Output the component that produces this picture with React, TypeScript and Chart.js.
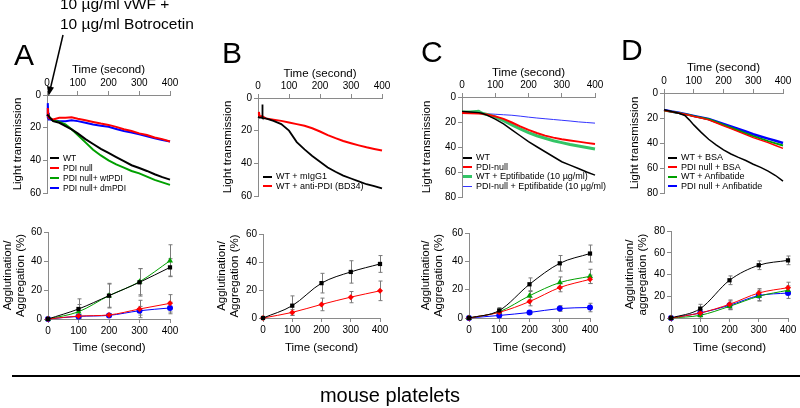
import React, { useEffect, useRef } from 'react';
import { Chart, registerables } from 'chart.js';
Chart.register(...registerables);

const FONT = "'Liberation Sans', Arial, Helvetica, sans-serif";
const AXIS = '#8a8a8a';
const GREEN = '#00a000';

// ---------- Top row: light transmission traces ----------
const tA = [0, 2, 3, 4, 6, 10, 20, 40, 60, 80, 100, 125, 150, 175, 200, 225, 250, 275, 300, 325, 350, 375, 400];
const aWT = [12, 12, 12, 12.5, 13, 14, 16, 17, 19, 21, 23.5, 27, 30, 33, 35.5, 38, 40.5, 43, 44.7, 46.5, 48.5, 50.3, 51.8];
const aNull = [13, 11, 8, 12, 14, 14.5, 15, 14, 14, 13.6, 14.5, 15.5, 16.5, 17.5, 18.3, 19.5, 21, 22, 23.5, 24.5, 26, 27, 28.5];
const aWtPDI = [12, 12, 12, 12.5, 13, 14, 15.5, 16.5, 18, 21, 24.5, 29, 33.5, 37, 40, 42.5, 44.5, 46.5, 48, 50, 52, 53.5, 55];
const aDmPDI = [14, 9, 5, 11, 15, 15, 15.5, 16, 16, 15.5, 16, 17, 18, 18.8, 19.5, 20.8, 22, 23, 24, 25.2, 26.5, 27.5, 28.5];

const tB = [0, 3, 5, 13, 14, 15, 25, 50, 75, 100, 125, 150, 175, 200, 225, 250, 275, 300, 325, 350, 375, 400];
const bIgG = [11.5, 11.8, 12, 12, 4, 12.3, 12.5, 14, 16, 20, 27, 31.5, 35.5, 39, 42.5, 45.2, 47.5, 49.3, 51, 52.8, 54, 55.4];
const bAnti = [10.5, 8.5, 11, 11.2, 11.2, 11.3, 12.5, 13.3, 14, 15, 16, 17, 18.5, 20.5, 22.7, 24.6, 26.3, 27.7, 29, 30.2, 31.2, 32.2];

const tC = [0, 25, 50, 60, 75, 100, 125, 150, 175, 200, 225, 250, 275, 300, 325, 350, 375, 400];
const cWT = [11.5, 12, 12.5, 13, 14.5, 17.7, 21.5, 26.3, 31, 35.7, 39.8, 43.8, 47.8, 51.8, 54.5, 57.2, 60, 62.5];
const cNull = [12.8, 13, 13.2, 13.5, 14, 15.5, 17.5, 20.4, 23.5, 26.3, 28.8, 30.9, 32.5, 33.8, 34.8, 35.7, 36.7, 37.6];
const cWtE = [12, 12, 11.5, 13, 14, 16, 19, 22.3, 25.5, 28.5, 31, 33, 35, 36.5, 38, 39.2, 40.4, 41.6];
const cNullE = [12.5, 12.8, 13, 13.2, 13.4, 13.8, 14.2, 14.6, 15.3, 16.1, 16.8, 17.4, 18, 18.6, 19.2, 19.9, 20.4, 20.9];

const tD = [0, 25, 50, 70, 85, 100, 125, 150, 175, 200, 225, 250, 275, 300, 325, 350, 375, 400];
const dWTB = [13.4, 14.8, 16.2, 18, 21.5, 25.5, 31.5, 37, 41.5, 45.5, 48.8, 51.5, 54, 57, 59.5, 62.5, 66, 70.5];
const dNullB = [14, 15, 16, 17, 17.8, 18.8, 20, 21.5, 23.8, 26.3, 28.5, 30.9, 33.3, 35.7, 37.7, 39.7, 42, 44.3];
const dWTA = [14, 15, 16, 17, 17.6, 18.5, 19.8, 21, 23.2, 25.5, 27.8, 30, 32.3, 34.5, 36.5, 38.5, 40.3, 42];
const dNullA = [13.5, 14.8, 15.8, 16.8, 17.5, 18.3, 19.5, 20.8, 22.8, 24.8, 26.8, 28.8, 30.8, 33, 34.8, 36.5, 38.2, 40];

// ---------- Bottom row: agglutination / aggregation ----------
const tBot = [0, 100, 200, 300, 400];
const aggA_WT = [0, 6.9, 16.1, 25.3, 35.6];
const aggA_Null = [0, 2, 2.8, 6.9, 10.8];
const aggA_Wt = [0, 5, 16.1, 25.7, 40.2];
const aggA_Dm = [0, 1.8, 2.5, 5.7, 7.6];
const errA_WT = [0, 7, 8.5, 9.5, 6];
const errA_Null = [0, 1, 1, 6, 6];
const errA_Wt = [0, 5, 8, 9, 11];
const errA_Dm = [0, 1, 1, 3, 4];

const aggB_IgG = [0, 8.8, 24.9, 32.9, 38.6];
const aggB_Anti = [0, 4, 9.7, 14.9, 19.4];
const errB_IgG = [0, 7, 7, 8, 6];
const errB_Anti = [0, 2, 4.5, 4, 7];

const aggC_WT = [0, 5.3, 23.8, 38.6, 45.5];
const aggC_Null = [0, 4, 11.6, 21.5, 27.3];
const aggC_WtE = [0, 4.4, 15.7, 25, 29.4];
const aggC_NullE = [0, 1.8, 3.9, 6.7, 7.4];
const errC_WT = [0, 2, 4.5, 5.5, 6];
const errC_Null = [0, 2, 3, 3, 3];
const errC_WtE = [0, 2, 3, 4, 5];
const errC_NullE = [0, 1, 1, 2, 3];

const aggD_WTB = [0, 8.6, 34.7, 48.5, 53];
const aggD_NullB = [0, 4.6, 12.6, 23, 27.9];
const aggD_WTA = [0, 2.5, 10.7, 20, 25.5];
const aggD_NullA = [0, 4.6, 11.7, 20.6, 23];
const errD_WTB = [0, 4, 4, 4, 4];
const errD_NullB = [0, 3, 4, 4, 5];
const errD_WTA = [0, 3, 3, 4, 4];
const errD_NullA = [0, 3, 4, 5, 5];

const timeTicks = [0, 100, 200, 300, 400];

type Series = { label: string; v: number[]; color: string; w: number; marker?: string; r?: number; err?: number[] };

const tickFont = { family: FONT, size: 10 };
const titleFont = { family: FONT, size: 11.5, lineHeight: 1.15 };

function axisCommon() {
  return {
    border: { display: true, color: AXIS, width: 1 },
    grid: { display: true, drawOnChartArea: false, drawTicks: true, tickLength: 4, color: AXIS },
  };
}

function topConfig(t: number[], series: Series[], yMax: number, yW: number, xH: number) {
  return {
    type: 'line',
    data: {
      datasets: series.map((s) => ({
        label: s.label,
        data: t.map((x, i) => ({ x, y: s.v[i] })),
        borderColor: s.color,
        backgroundColor: s.color,
        borderWidth: s.w,
        pointRadius: 0,
        tension: 0,
        fill: false,
        clip: false,
      })),
    },
    options: {
      animation: false,
      responsive: false,
      events: [],
      layout: { padding: { left: 0, top: 0, right: 12, bottom: 8 } },
      plugins: { legend: { display: false }, tooltip: { enabled: false } },
      scales: {
        x: {
          type: 'linear',
          position: 'top',
          min: 0,
          max: 400,
          ...axisCommon(),
          afterBuildTicks: (s: any) => { s.ticks = timeTicks.map((v) => ({ value: v })); },
          ticks: { font: tickFont, color: '#000', padding: 2, maxRotation: 0 },
          title: { display: true, text: 'Time (second)', font: titleFont, color: '#000', padding: 0 },
          afterFit: (s: any) => { s.height = xH; },
        },
        y: {
          type: 'linear',
          reverse: true,
          min: 0,
          max: yMax,
          ...axisCommon(),
          ticks: { stepSize: 20, font: tickFont, color: '#000', padding: 2 },
          title: { display: true, text: 'Light transmission', font: titleFont, color: '#000', padding: 0 },
          afterFit: (s: any) => { s.width = yW; },
        },
      },
    },
  };
}

function makeErrPlugin(errs: (number[] | undefined)[]) {
  return {
    id: 'errbars',
    beforeDatasetsDraw(chart: any) {
      const { ctx } = chart;
      const xs = chart.scales.x;
      const ys = chart.scales.y;
      ctx.save();
      ctx.strokeStyle = '#7a7a7a';
      ctx.lineWidth = 1;
      chart.data.datasets.forEach((ds: any, di: number) => {
        const e = errs[di];
        if (!e) return;
        ds.data.forEach((pt: any, i: number) => {
          if (!e[i]) return;
          const x = Math.round(xs.getPixelForValue(pt.x)) + 0.5;
          const y1 = ys.getPixelForValue(pt.y + e[i]);
          const y2 = ys.getPixelForValue(Math.max(0, pt.y - e[i]));
          ctx.beginPath();
          ctx.moveTo(x, y1);
          ctx.lineTo(x, y2);
          ctx.moveTo(x - 2, y1);
          ctx.lineTo(x + 2, y1);
          ctx.moveTo(x - 2, y2);
          ctx.lineTo(x + 2, y2);
          ctx.stroke();
        });
      });
      ctx.restore();
    },
  };
}

function bottomConfig(series: Series[], yMax: number, yW: number, xH: number, yTitle: string[]) {
  return {
    type: 'line',
    data: {
      datasets: series.map((s) => ({
        label: s.label,
        data: tBot.map((x, i) => ({ x, y: s.v[i] })),
        borderColor: s.color,
        backgroundColor: s.color,
        borderWidth: s.w,
        pointStyle: s.marker,
        pointRadius: s.r ?? 3,
        pointBorderWidth: 0,
        pointBackgroundColor: s.color,
        cubicInterpolationMode: 'monotone',
        fill: false,
        clip: false,
      })),
    },
    plugins: [makeErrPlugin(series.map((s) => s.err))],
    options: {
      animation: false,
      responsive: false,
      events: [],
      layout: { padding: { left: 0, top: 8, right: 12, bottom: 0 } },
      plugins: { legend: { display: false }, tooltip: { enabled: false } },
      scales: {
        x: {
          type: 'linear',
          position: 'bottom',
          min: 0,
          max: 400,
          ...axisCommon(),
          afterBuildTicks: (s: any) => { s.ticks = timeTicks.map((v) => ({ value: v })); },
          ticks: { font: tickFont, color: '#000', padding: 2, maxRotation: 0 },
          title: { display: true, text: 'Time (second)', font: titleFont, color: '#000', padding: 0 },
          afterFit: (s: any) => { s.height = xH; },
        },
        y: {
          type: 'linear',
          min: 0,
          max: yMax,
          ...axisCommon(),
          ticks: { stepSize: 20, font: tickFont, color: '#000', padding: 2 },
          title: { display: true, text: yTitle, font: titleFont, color: '#000', padding: 0 },
          afterFit: (s: any) => { s.width = yW; },
        },
      },
    },
  };
}

function ChartBox({ left, top, width, height, config }: { left: number; top: number; width: number; height: number; config: any }) {
  const ref = useRef<HTMLCanvasElement | null>(null);
  useEffect(() => {
    if (!ref.current) return;
    const ch = new Chart(ref.current, config);
    return () => ch.destroy();
  }, []);
  return (
    <div style={{ position: 'absolute', left, top, width, height }}>
      <canvas ref={ref} width={width} height={height} style={{ width, height, display: 'block' }} />
    </div>
  );
}

function Legend({ left, top, items, size = 9, gap = 9.5 }: { left: number; top: number; items: { label: string; color: string; w: number }[]; size?: number; gap?: number }) {
  return (
    <div style={{ position: 'absolute', left, top, fontFamily: FONT, fontSize: size, color: '#000', whiteSpace: 'nowrap' }}>
      {items.map((it) => (
        <div key={it.label} style={{ height: gap, lineHeight: gap + 'px', display: 'flex', alignItems: 'center' }}>
          <span style={{ display: 'inline-block', width: 9, height: 0, borderTop: `${it.w}px solid ${it.color}`, marginRight: 4 }} />
          <span>{it.label}</span>
        </div>
      ))}
    </div>
  );
}

const Letter = ({ x, y, ch }: { x: number; y: number; ch: string }) => (
  <div style={{ position: 'absolute', left: x, top: y, fontFamily: FONT, fontSize: 30, lineHeight: '30px', color: '#000' }}>{ch}</div>
);

export default function App() {
  const cfgA = topConfig(tA, [
    { label: 'WT', v: aWT, color: '#000', w: 2 },
    { label: 'PDI null', v: aNull, color: '#ff0000', w: 2 },
    { label: 'PDI null+ wtPDI', v: aWtPDI, color: GREEN, w: 2 },
    { label: 'PDI null+ dmPDI', v: aDmPDI, color: '#0000ff', w: 2 },
  ], 60, 36, 32);
  const cfgB = topConfig(tB, [
    { label: 'WT + mIgG1', v: bIgG, color: '#000', w: 1.8 },
    { label: 'WT + anti-PDI (BD34)', v: bAnti, color: '#ff0000', w: 2 },
  ], 60, 37, 31);
  const cfgC = topConfig(tC, [
    { label: 'WT', v: cWT, color: '#000', w: 1.5 },
    { label: 'PDI-null', v: cNull, color: '#ff0000', w: 2 },
    { label: 'WT + Eptifibatide (10 µg/ml)', v: cWtE, color: '#33c466', w: 3 },
    { label: 'PDI-null + Eptifibatide (10 µg/ml)', v: cNullE, color: '#3333ff', w: 1 },
  ], 80, 42, 31);
  const cfgD = topConfig(tD, [
    { label: 'WT + BSA', v: dWTB, color: '#000', w: 1.5 },
    { label: 'PDI null + BSA', v: dNullB, color: '#ff0000', w: 1.5 },
    { label: 'WT + Anfibatide', v: dWTA, color: GREEN, w: 2 },
    { label: 'PDI null + Anfibatide', v: dNullA, color: '#0000ff', w: 2.5 },
  ], 80, 36, 32);

  const agg = ['Agglutination/', 'Aggregation (%)'];
  const cfgA2 = bottomConfig([
    { label: 'WT', v: aggA_WT, color: '#000', w: 1, marker: 'rect', r: 3, err: errA_WT },
    { label: 'PDI null', v: aggA_Null, color: '#ff0000', w: 1, marker: 'rectRot', r: 3, err: errA_Null },
    { label: 'PDI null+ wtPDI', v: aggA_Wt, color: GREEN, w: 1, marker: 'triangle', r: 3.5, err: errA_Wt },
    { label: 'PDI null+ dmPDI', v: aggA_Dm, color: '#0000ff', w: 1, marker: 'circle', r: 3, err: errA_Dm },
  ], 60, 47, 35, agg);
  const cfgB2 = bottomConfig([
    { label: 'WT + mIgG1', v: aggB_IgG, color: '#000', w: 1, marker: 'rect', r: 3, err: errB_IgG },
    { label: 'WT + anti-PDI (BD34)', v: aggB_Anti, color: '#ff0000', w: 1, marker: 'rectRot', r: 3, err: errB_Anti },
  ], 60, 48, 36, agg);
  const cfgC2 = bottomConfig([
    { label: 'WT', v: aggC_WT, color: '#000', w: 1, marker: 'rect', r: 3, err: errC_WT },
    { label: 'PDI-null', v: aggC_Null, color: '#ff0000', w: 1, marker: 'rectRot', r: 3, err: errC_Null },
    { label: 'WT + Eptifibatide (10 µg/ml)', v: aggC_WtE, color: GREEN, w: 1, marker: 'triangle', r: 3.5, err: errC_WtE },
    { label: 'PDI-null + Eptifibatide (10 µg/ml)', v: aggC_NullE, color: '#0000ff', w: 1, marker: 'circle', r: 3, err: errC_NullE },
  ], 60, 50, 36, agg);
  const cfgD2 = bottomConfig([
    { label: 'WT + BSA', v: aggD_WTB, color: '#000', w: 1, marker: 'rect', r: 3, err: errD_WTB },
    { label: 'PDI null + BSA', v: aggD_NullB, color: '#ff0000', w: 1, marker: 'rectRot', r: 3, err: errD_NullB },
    { label: 'WT + Anfibatide', v: aggD_WTA, color: GREEN, w: 1, marker: 'triangle', r: 3.5, err: errD_WTA },
    { label: 'PDI null + Anfibatide', v: aggD_NullA, color: '#0000ff', w: 1, marker: 'circle', r: 3, err: errD_NullA },
  ], 80, 48, 36, ['Agglutination/', 'aggregation (%)']);

  return (
    <div style={{ position: 'absolute', left: 0, top: 0, width: 800, height: 408, background: '#fff', overflow: 'hidden' }}>
      {/* top row */}
      <ChartBox left={11} top={63} width={182 - 11} height={201 - 63} config={cfgA} />
      <ChartBox left={221} top={67} width={394 - 221} height={204 - 67} config={cfgB} />
      <ChartBox left={420} top={66} width={607 - 420} height={205 - 66} config={cfgC} />
      <ChartBox left={628} top={61} width={795 - 628} height={201 - 61} config={cfgD} />
      {/* bottom row */}
      <ChartBox left={1} top={224} width={182 - 1} height={354 - 224} config={cfgA2} />
      <ChartBox left={215} top={226} width={392 - 215} height={354 - 226} config={cfgB2} />
      <ChartBox left={419} top={225} width={602 - 419} height={354 - 225} config={cfgC2} />
      <ChartBox left={623} top={223} width={800 - 623} height={354 - 223} config={cfgD2} />

      <Legend left={50} top={153} items={[
        { label: 'WT', color: '#000', w: 2 },
        { label: 'PDI null', color: '#ff0000', w: 2 },
        { label: 'PDI null+ wtPDI', color: GREEN, w: 2 },
        { label: 'PDI null+ dmPDI', color: '#0000ff', w: 2 },
      ]} size={8.5} gap={10} />
      <Legend left={263} top={172} items={[
        { label: 'WT + mIgG1', color: '#000', w: 2 },
        { label: 'WT + anti-PDI (BD34)', color: '#ff0000', w: 2 },
      ]} size={9} gap={9.5} />
      <Legend left={463} top={153} items={[
        { label: 'WT', color: '#000', w: 2 },
        { label: 'PDI-null', color: '#ff0000', w: 2 },
        { label: 'WT + Eptifibatide (10 µg/ml)', color: '#33c466', w: 3 },
        { label: 'PDI-null + Eptifibatide (10 µg/ml)', color: '#3333ff', w: 1 },
      ]} size={9} gap={9.5} />
      <Legend left={668} top={153} items={[
        { label: 'WT + BSA', color: '#000', w: 2 },
        { label: 'PDI null + BSA', color: '#ff0000', w: 2 },
        { label: 'WT + Anfibatide', color: GREEN, w: 2 },
        { label: 'PDI null + Anfibatide', color: '#0000ff', w: 2 },
      ]} size={9} gap={9.5} />

      <Letter x={14} y={40} ch="A" />
      <Letter x={222} y={38} ch="B" />
      <Letter x={421} y={37} ch="C" />
      <Letter x={621} y={35} ch="D" />

      <div style={{ position: 'absolute', left: 60, top: -6, fontFamily: FONT, fontSize: 15.5, lineHeight: '20px', color: '#000', whiteSpace: 'nowrap' }}>
        <div>10 µg/ml vWF +</div>
        <div>10 µg/ml Botrocetin</div>
      </div>
      <svg style={{ position: 'absolute', left: 0, top: 0 }} width={800} height={408}>
        <line x1={63} y1={35} x2={50.5} y2={88} stroke="#000" strokeWidth={1.5} />
        <polygon points="48.5,96 47,86 54,87.5" fill="#000" />
      </svg>

      <div style={{ position: 'absolute', left: 12, top: 375, width: 788, height: 2, background: '#000' }} />
      <div style={{ position: 'absolute', left: 290, top: 383, width: 200, textAlign: 'center', fontFamily: FONT, fontSize: 20, lineHeight: '24px', color: '#000' }}>mouse platelets</div>
    </div>
  );
}
